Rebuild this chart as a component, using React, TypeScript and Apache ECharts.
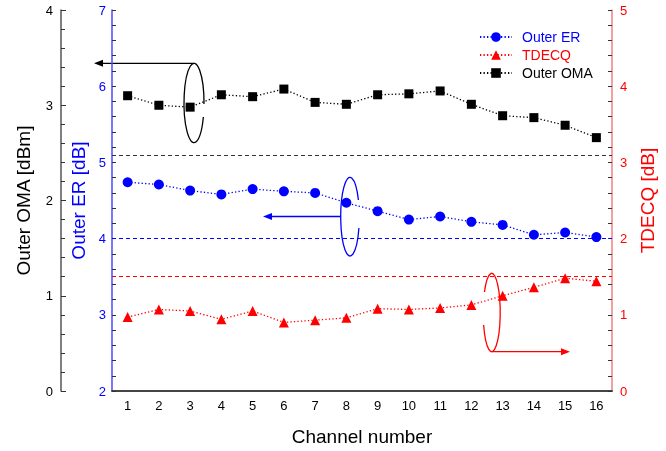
import React, { useEffect, useRef } from "react";
import * as echarts from "echarts";

const channels = ["1", "2", "3", "4", "5", "6", "7", "8", "9", "10", "11", "12", "13", "14", "15", "16"];
const outerER = [4.74, 4.71, 4.63, 4.58, 4.65, 4.62, 4.6, 4.47, 4.36, 4.25, 4.29, 4.22, 4.18, 4.05, 4.08, 4.02];
const tdecq = [0.97, 1.07, 1.05, 0.94, 1.05, 0.9, 0.93, 0.96, 1.08, 1.07, 1.09, 1.13, 1.25, 1.36, 1.48, 1.44];
const outerOMA = [3.1, 3.0, 2.98, 3.11, 3.09, 3.17, 3.03, 3.01, 3.11, 3.12, 3.15, 3.01, 2.89, 2.87, 2.79, 2.66];
const omaLimit = 2.48;
const erLimit = 4.0;
const tdecqLimit = 1.5;

const FONT = "'Liberation Sans', Arial, sans-serif";

function ellipseGap(cx: number, cy: number, rx: number, ry: number, side: number, y1: number, y2: number) {
  const px = (y: number) => cx + side * rx * Math.sqrt(Math.max(0, 1 - ((y - cy) / ry) ** 2));
  if (side > 0) {
    return `M ${px(y2)} ${y2} A ${rx} ${ry} 0 1 1 ${px(y1)} ${y1}`;
  }
  return `M ${px(y1)} ${y1} A ${rx} ${ry} 0 1 1 ${px(y2)} ${y2}`;
}

let registered = false;
function registerShapes() {
  if (registered) return;
  registered = true;
  echarts.graphic.registerShape("ellBlack", echarts.graphic.extendPath(ellipseGap(194, 103, 10, 39.7, 1, 104, 117), {}) as any);
  echarts.graphic.registerShape("ellBlue", echarts.graphic.extendPath(ellipseGap(350, 216.7, 9.3, 39.3, 1, 200, 228), {}) as any);
  echarts.graphic.registerShape("ellRed", echarts.graphic.extendPath(ellipseGap(491.7, 312.5, 8.5, 39.2, -1, 292, 325), {}) as any);
}

function limitLine(value: number, color: string) {
  const ls = { color, type: [4, 3] as any, width: 1 };
  return {
    silent: true,
    symbol: "none",
    label: { show: false },
    itemStyle: { color },
    lineStyle: ls,
    emphasis: { disabled: true },
    data: [{ yAxis: value, lineStyle: ls, itemStyle: { color } }],
  };
}

export default function App() {
  const ref = useRef<HTMLDivElement>(null);
  useEffect(() => {
    if (!ref.current) return;
    registerShapes();
    const chart = echarts.init(ref.current, null, { renderer: "svg" });
    const dotted = (color: string) => ({ color, width: 1.3, type: [1.3, 2.2] as any });
    const tickStyle = { color: "#333", width: 1 };
    chart.setOption({
      animation: false,
      textStyle: { fontFamily: FONT },
      grid: { left: 112, right: 54, top: 10, bottom: 59 },
      legend: {
        orient: "vertical",
        left: 474,
        top: 25,
        itemWidth: 32,
        itemHeight: 12,
        itemGap: 4,
        textStyle: { fontSize: 14, fontFamily: FONT, padding: [0, 0, 0, 5] },
        data: [
          { name: "Outer ER", textStyle: { color: "#0000ff" } },
          { name: "TDECQ", textStyle: { color: "#ff0000" } },
          { name: "Outer OMA", textStyle: { color: "#000" } },
        ],
      },
      xAxis: [
        {
          type: "category",
          data: channels,
          boundaryGap: true,
          name: "Channel number",
          nameLocation: "middle",
          nameGap: 36,
          nameTextStyle: { fontSize: 19, color: "#000", fontFamily: FONT },
          axisLine: { lineStyle: { color: "#555", width: 1.5 } },
          axisTick: { alignWithLabel: true, inside: true, length: 5, lineStyle: tickStyle },
          axisLabel: { color: "#000", fontSize: 13, margin: 8, fontFamily: FONT },
          splitLine: { show: false },
        },
        {
          type: "category",
          data: channels,
          position: "top",
          axisLine: { lineStyle: { color: "#333", width: 1.5 } },
          axisTick: { show: false },
          axisLabel: { show: false },
          splitLine: { show: false },
        },
      ],
      yAxis: [
        {
          type: "value",
          position: "left",
          offset: 51,
          min: 0,
          max: 4,
          interval: 1,
          name: "Outer OMA [dBm]",
          nameLocation: "middle",
          nameGap: 28,
          nameTextStyle: { fontSize: 19, color: "#000", fontFamily: FONT },
          axisLine: { show: true, lineStyle: { color: "#555", width: 1.5 } },
          axisTick: { show: true, inside: true, length: 5, lineStyle: tickStyle },
          minorTick: { show: true, splitNumber: 5, length: 4, lineStyle: tickStyle },
          axisLabel: { color: "#000", fontSize: 13, margin: 8, fontFamily: FONT },
          splitLine: { show: false },
        },
        {
          type: "value",
          position: "left",
          offset: 0,
          min: 2,
          max: 7,
          interval: 1,
          name: "Outer ER [dB]",
          nameLocation: "middle",
          nameGap: 19,
          nameTextStyle: { fontSize: 19, color: "#0000ff", fontFamily: FONT },
          axisLine: { show: true, lineStyle: { color: "#4a4aff", width: 1.5 } },
          axisTick: { show: true, inside: true, length: 4, lineStyle: tickStyle },
          minorTick: { show: true, splitNumber: 5, length: 4, lineStyle: tickStyle },
          axisLabel: { color: "#0000ff", fontSize: 13, margin: 6, fontFamily: FONT },
          splitLine: { show: false },
        },
        {
          type: "value",
          position: "right",
          min: 0,
          max: 5,
          interval: 1,
          name: "TDECQ [dB]",
          nameLocation: "middle",
          nameGap: 19,
          nameTextStyle: { fontSize: 19, color: "#ff0000", fontFamily: FONT },
          axisLine: { show: true, lineStyle: { color: "#f08080", width: 1.5 } },
          axisTick: { show: true, inside: true, length: 4, lineStyle: tickStyle },
          minorTick: { show: true, splitNumber: 5, length: 4, lineStyle: tickStyle },
          axisLabel: { color: "#ff0000", fontSize: 13, margin: 8, fontFamily: FONT },
          splitLine: { show: false },
        },
      ],
      series: [
        {
          name: "Outer ER",
          type: "line",
          yAxisIndex: 1,
          data: outerER,
          symbol: "circle",
          symbolSize: 10,
          itemStyle: { color: "#0000ff" },
          lineStyle: dotted("#0000ff"),
          markLine: limitLine(erLimit, "#0000ff"),
        },
        {
          name: "TDECQ",
          type: "line",
          yAxisIndex: 2,
          data: tdecq,
          symbol: "triangle",
          symbolSize: 10,
          itemStyle: { color: "#ff0000" },
          lineStyle: dotted("#ff0000"),
          markLine: limitLine(tdecqLimit, "#ff0000"),
        },
        {
          name: "Outer OMA",
          type: "line",
          yAxisIndex: 0,
          data: outerOMA,
          symbol: "rect",
          symbolSize: 9,
          itemStyle: { color: "#000" },
          lineStyle: dotted("#000"),
          markLine: limitLine(omaLimit, "#333"),
        },
      ],
      graphic: [
        { type: "ellBlack", silent: true, style: { stroke: "#000", fill: "none", lineWidth: 1.3 } },
        { type: "line", silent: true, shape: { x1: 194, y1: 63.3, x2: 101, y2: 63.3 }, style: { stroke: "#000", lineWidth: 1.3 } },
        { type: "polygon", silent: true, shape: { points: [[94, 63.3], [103, 59.8], [103, 66.8]] }, style: { fill: "#000" } },
        { type: "ellBlue", silent: true, style: { stroke: "#0000ff", fill: "none", lineWidth: 1.3 } },
        { type: "line", silent: true, shape: { x1: 340.7, y1: 216.5, x2: 270, y2: 216.5 }, style: { stroke: "#0000ff", lineWidth: 1.3 } },
        { type: "polygon", silent: true, shape: { points: [[263, 216.5], [272, 213], [272, 220]] }, style: { fill: "#0000ff" } },
        { type: "ellRed", silent: true, style: { stroke: "#ff0000", fill: "none", lineWidth: 1.3 } },
        { type: "line", silent: true, shape: { x1: 492.7, y1: 351.7, x2: 563, y2: 351.7 }, style: { stroke: "#ff0000", lineWidth: 1.3 } },
        { type: "polygon", silent: true, shape: { points: [[570, 351.7], [561, 348.2], [561, 355.2]] }, style: { fill: "#ff0000" } },
      ],
    });
    return () => chart.dispose();
  }, []);
  return <div ref={ref} style={{ position: "fixed", left: 0, top: 0, width: 666, height: 451 }} />;
}
